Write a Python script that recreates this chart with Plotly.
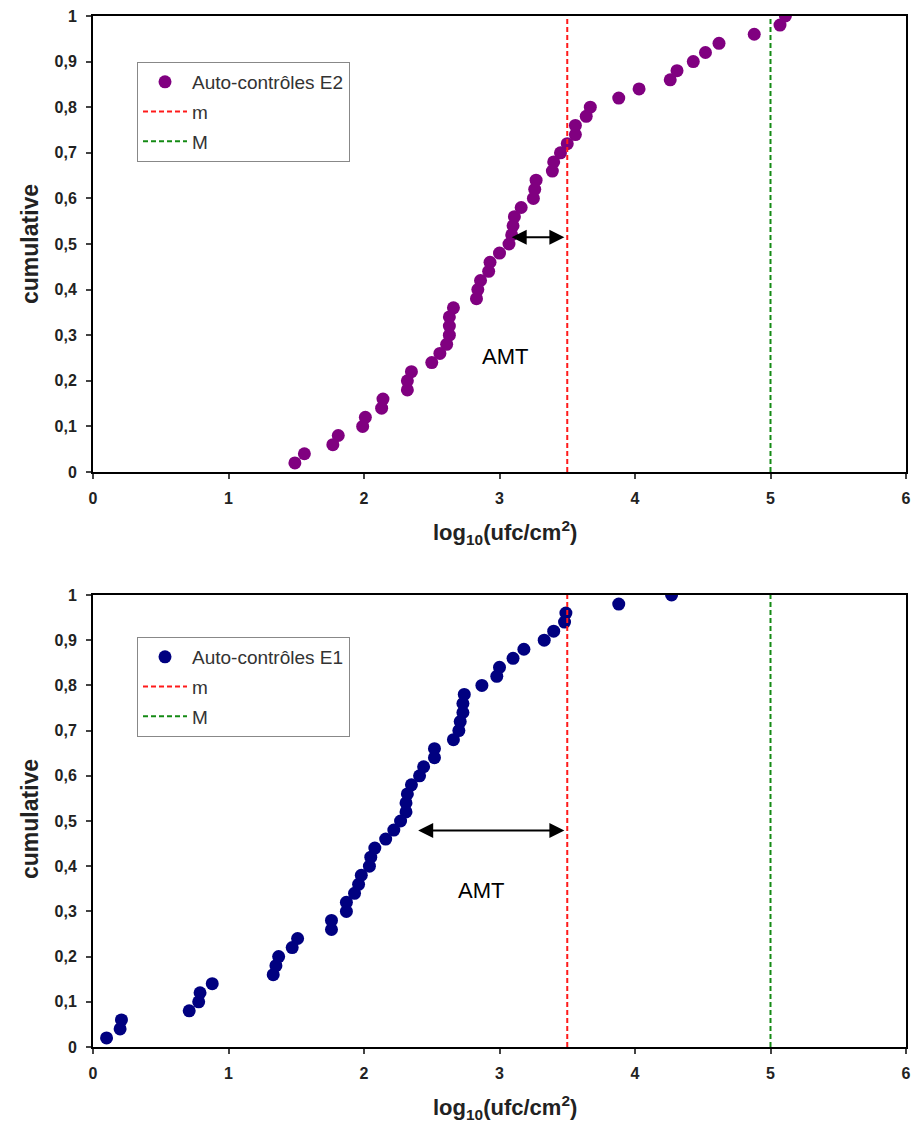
import plotly.graph_objects as go

# Cumulative frequencies (50 samples each, step 0.02)
cum = [round(0.02 * (i + 1), 2) for i in range(50)]

# log10(ufc/cm2), sorted, Auto-contrôles E2
e2_log = [1.49, 1.56, 1.77, 1.81, 1.99, 2.01, 2.13, 2.14, 2.32, 2.32,
          2.35, 2.50, 2.56, 2.61, 2.63, 2.63, 2.63, 2.66, 2.83, 2.84,
          2.86, 2.92, 2.93, 3.00, 3.07, 3.09, 3.10, 3.11, 3.16, 3.25,
          3.26, 3.27, 3.39, 3.40, 3.45, 3.50, 3.56, 3.56, 3.64, 3.67,
          3.88, 4.03, 4.26, 4.31, 4.43, 4.52, 4.62, 4.88, 5.07, 5.11]

# log10(ufc/cm2), sorted, Auto-contrôles E1
e1_log = [0.10, 0.20, 0.21, 0.71, 0.78, 0.79, 0.88, 1.33, 1.35, 1.37,
          1.47, 1.51, 1.76, 1.76, 1.87, 1.87, 1.93, 1.96, 1.98, 2.04,
          2.05, 2.08, 2.16, 2.22, 2.27, 2.31, 2.31, 2.32, 2.35, 2.41,
          2.44, 2.52, 2.52, 2.66, 2.70, 2.71, 2.73, 2.73, 2.74, 2.87,
          2.98, 3.00, 3.10, 3.18, 3.33, 3.40, 3.48, 3.49, 3.88, 4.27]

m_limit = 3.5
M_limit = 5.0

# AMT arrows: (start, end, level) and label positions
amt_top = dict(x0=3.09, x1=3.49, y=0.515, tx=3.04, ty=0.254)
amt_bot = dict(x0=2.40, x1=3.49, y=0.479, tx=2.86, ty=0.347)

FONT = "Liberation Sans, Arial, sans-serif"
W, H = 913, 1123

fig = go.Figure()

panels = [
    dict(x=e2_log, name="Auto-contrôles E2", color="#800080",
         xa="x", ya="y", legend="legend", amt=amt_top),
    dict(x=e1_log, name="Auto-contrôles E1", color="#000080",
         xa="x2", ya="y2", legend="legend2", amt=amt_bot),
]

for p in panels:
    fig.add_trace(go.Scatter(
        x=p["x"], y=cum, mode="markers", name=p["name"],
        marker=dict(color=p["color"], size=13, line=dict(width=0)),
        xaxis=p["xa"], yaxis=p["ya"], legend=p["legend"],
        legendgroup=p["legend"] + "a"))
    fig.add_trace(go.Scatter(
        x=[m_limit, m_limit], y=[0, 1], mode="lines", name="m",
        line=dict(color="#ff1a1a", width=2, dash="5px,3px"),
        xaxis=p["xa"], yaxis=p["ya"], legend=p["legend"],
        legendgroup=p["legend"] + "b"))
    fig.add_trace(go.Scatter(
        x=[M_limit, M_limit], y=[0, 1], mode="lines", name="M",
        line=dict(color="#148a14", width=2, dash="5px,3px"),
        xaxis=p["xa"], yaxis=p["ya"], legend=p["legend"],
        legendgroup=p["legend"] + "c"))

x_dom = [93 / W, 906 / W]
top_dom = [1 - 472 / H, 1 - 16 / H]
bot_dom = [1 - 1047 / H, 1 - 595 / H]

axis_common = dict(
    showline=True, linecolor="black", linewidth=2, mirror=True,
    ticks="outside", ticklen=5, tickwidth=1.5, tickcolor="#444",
    showgrid=False, zeroline=False, automargin=False,
    tickfont=dict(family=FONT, size=16, color="#222", weight="bold"),
)

xa = dict(axis_common, range=[0, 6], dtick=1, domain=x_dom, ticklabelstandoff=6)
ya = dict(axis_common, range=[0, 1], dtick=0.1, ticklabelstandoff=6)

fig.update_layout(
    width=W, height=H,
    margin=dict(l=0, r=0, t=0, b=0),
    paper_bgcolor="white", plot_bgcolor="white",
    separators=", ",
    showlegend=True,
    xaxis=dict(xa, anchor="y"),
    yaxis=dict(ya, domain=top_dom, anchor="x"),
    xaxis2=dict(xa, anchor="y2"),
    yaxis2=dict(ya, domain=bot_dom, anchor="x2"),
)

legend_common = dict(
    xanchor="left", yanchor="top",
    bgcolor="white", bordercolor="#888", borderwidth=1,
    font=dict(family=FONT, size=19, color="#333"),
    tracegroupgap=2, itemwidth=44,
)
fig.update_layout(
    legend=dict(legend_common, x=137 / W, y=1 - 62 / H),
    legend2=dict(legend_common, x=137 / W, y=1 - 637 / H),
)

annotations = []
for p, ybase in zip(panels, [472, 1047]):
    a = p["amt"]
    xr, yr = p["xa"], p["ya"]
    # double-headed AMT arrow
    annotations.append(dict(
        x=a["x0"], y=a["y"], ax=a["x1"], ay=a["y"],
        xref=xr, yref=yr, axref=xr, ayref=yr,
        showarrow=True, arrowhead=2, startarrowhead=2, arrowside="end+start",
        arrowsize=1.5, startarrowsize=1.5, arrowwidth=2, arrowcolor="black",
        text=""))
    annotations.append(dict(
        x=a["tx"], y=a["ty"], xref=xr, yref=yr, text="AMT",
        xanchor="center", yanchor="middle",
        showarrow=False, font=dict(family=FONT, size=22, color="black")))
    # axis titles
    annotations.append(dict(
        x=505 / W, y=1 - (ybase + 60) / H, xref="paper", yref="paper",
        xanchor="center", yanchor="middle",
        text="log<sub>10</sub>(ufc/cm<sup>2</sup>)", showarrow=False,
        font=dict(family=FONT, size=22, color="#222", weight="bold")))
    annotations.append(dict(
        x=30 / W, y=1 - (ybase - 228) / H, xref="paper", yref="paper",
        xanchor="center", yanchor="middle",
        text="cumulative", textangle=-90, showarrow=False,
        font=dict(family=FONT, size=23, color="#222", weight="bold")))

fig.update_layout(annotations=annotations)

fig.write_html("out.html")
